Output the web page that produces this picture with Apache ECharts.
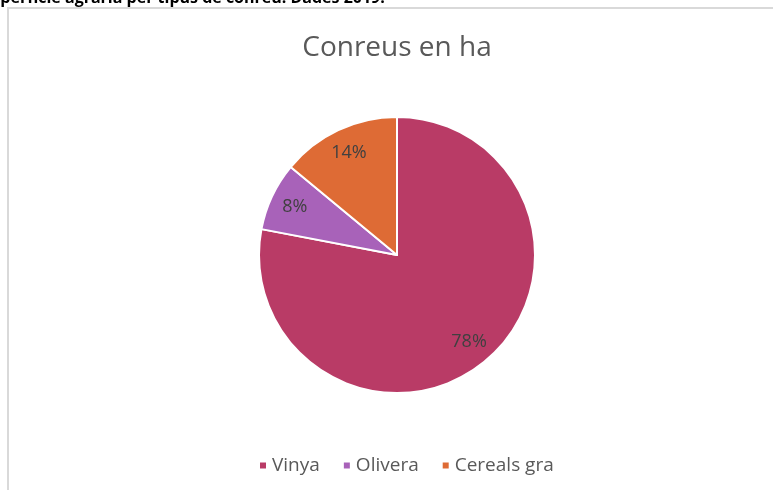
<!DOCTYPE html>
<html>
<head>
<meta charset="utf-8">
<script src="https://cdn.jsdelivr.net/npm/echarts@6/dist/echarts.min.js"></script>
<style>
  html, body { margin: 0; padding: 0; background: #fff; }
  #chart { width: 773px; height: 490px; }
</style>
</head>
<body>
<div id="chart"></div>
<script>
// conreus (percentatge de la superficie)
var categories = ["Vinya", "Olivera", "Cereals gra"];
var values = [78, 8, 14];
var colors = ["#B93B66", "#A862B9", "#DE6B35"];

var myChart = echarts.init(document.getElementById("chart"));

var data = categories.map(function (name, i) {
    return { name: name, value: values[i], itemStyle: { color: colors[i] } };
});

var option = {
    backgroundColor: "#fff",
    animation: false,
    title: {
        text: "Conreus en ha",
        left: 392,
        top: 29,
        textAlign: "center",
        textStyle: {
            color: "#595959",
            fontSize: 28,
            fontWeight: "normal",
            fontFamily: "Open Sans"
        }
    },
    legend: {
        bottom: 15,
        left: 258,
        padding: 0,
        itemWidth: 8,
        itemHeight: 8,
        itemGap: 22,
        icon: "rect",
        textStyle: { color: "#595959", fontSize: 19, fontFamily: "Open Sans" },
        data: categories
    },
    graphic: [
        {
            type: "text",
            left: -19,
            top: -10,
            z: 10,
            style: {
                text: "Superficie agrària per tipus de conreu. Dades 2019.",
                fill: "#000",
                font: "bold 16px 'Open Sans'"
            }
        },
        {
            type: "polyline",
            shape: { points: [[8, 490], [8, 8], [773, 8]] },
            style: { stroke: "#d9d9d9", lineWidth: 2, fill: null }
        }
    ],
    series: [
        {
            type: "pie",
            center: [397, 255],
            radius: 138,
            startAngle: 90,
            clockwise: true,
            itemStyle: { borderColor: "#fff", borderWidth: 2 },
            label: { show: false },
            labelLine: { show: false },
            emphasis: { disabled: true },
            data: data
        },
        {
            // ring transparent per posar les etiquetes més a fora
            type: "pie",
            center: [397, 255],
            radius: [82, 138],
            startAngle: 90,
            clockwise: true,
            silent: true,
            itemStyle: { color: "transparent", borderWidth: 0 },
            label: {
                show: true,
                position: "inside",
                formatter: "{d}%",
                color: "#404040",
                fontSize: 18,
                fontFamily: "Open Sans"
            },
            labelLine: { show: false },
            data: categories.map(function (name, i) {
                return { name: name, value: values[i] };
            })
        }
    ]
};
myChart.setOption(option);
</script>
</body>
</html>
